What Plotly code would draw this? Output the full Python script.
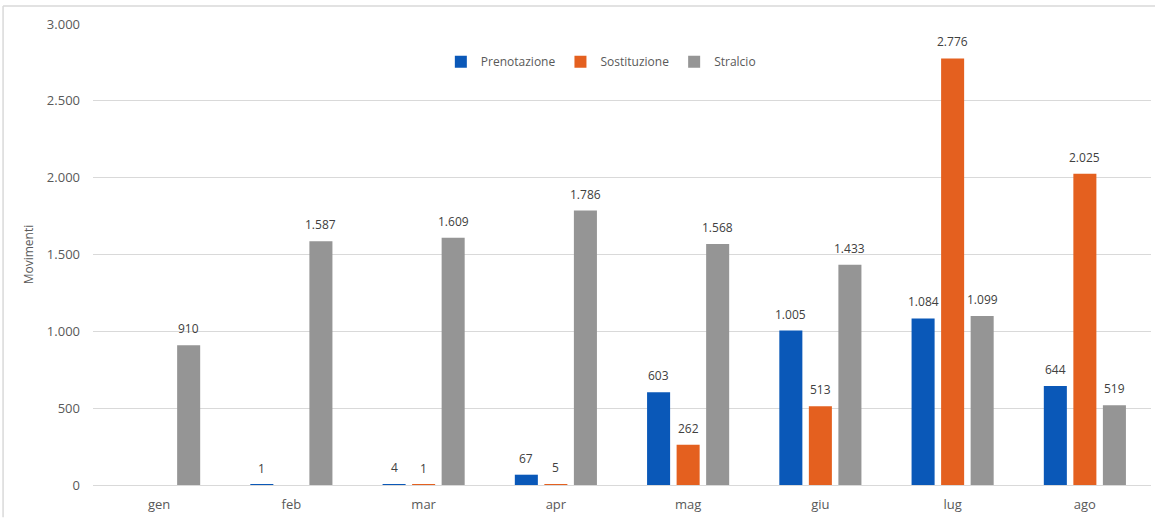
import plotly.graph_objects as go

months = ["gen", "feb", "mar", "apr", "mag", "giu", "lug", "ago"]
prenotazione = [None, 1, 4, 67, 603, 1005, 1084, 644]
sostituzione = [None, None, 1, 5, 262, 513, 2776, 2025]
stralcio = [910, 1587, 1609, 1786, 1568, 1433, 1099, 519]
y_ticks = [0, 500, 1000, 1500, 2000, 2500, 3000]

series = [
    ("Prenotazione", prenotazione, "#0A58B8"),
    ("Sostituzione", sostituzione, "#E4601F"),
    ("Stralcio", stralcio, "#959595"),
]

FONT = "Open Sans, Liberation Sans, sans-serif"

fig = go.Figure()
annotations = []
for i, (name, vals, color) in enumerate(series):
    fig.add_trace(go.Bar(
        x=months, y=vals, name=name,
        marker=dict(color=color, line=dict(width=0)),
    ))
    for m, v in zip(months, vals):
        if v is None:
            continue
        annotations.append(dict(
            x=m, y=v, xref="x", yref="y", showarrow=False,
            text=f"{v:,}".replace(",", "."),
            xshift=(i - 1) * 29.5, yshift=6, yanchor="bottom",
            font=dict(size=12, color="#404040", family=FONT),
        ))

fig.update_layout(
    width=1155, height=519,
    margin=dict(l=93, r=4, t=24, b=34),
    paper_bgcolor="white", plot_bgcolor="white",
    font=dict(family=FONT, size=12, color="#595959"),
    separators=",.",
    barmode="group", bargap=0.33, bargroupgap=0.22,
    showlegend=True,
    legend=dict(orientation="h", x=0.48, y=0.918, xanchor="center", yanchor="middle",
                font=dict(size=12, color="#595959"), itemwidth=30,
                traceorder="normal", bgcolor="rgba(0,0,0,0)"),
    xaxis=dict(showgrid=False, showline=True, linecolor="#D9D9D9", linewidth=1,
               ticks="", ticklabelstandoff=7, tickfont=dict(size=13, color="#595959")),
    yaxis=dict(range=[0, 3000], tickvals=y_ticks, tickformat=",",
               showgrid=True, gridcolor="#D9D9D9", gridwidth=1,
               zeroline=False, showline=False, ticks="",
               ticklabelstandoff=12, tickfont=dict(size=13, color="#595959"),
               title=dict(text="Movimenti", font=dict(size=12, color="#595959"), standoff=10)),
    annotations=annotations,
    shapes=[
        dict(type="line", xref="paper", yref="paper",
             x0=-0.085, x1=1.01, y0=1.039, y1=1.039,
             line=dict(color="#D9D9D9", width=1.5)),
        dict(type="line", xref="paper", yref="paper",
             x0=-0.085, x1=-0.085, y0=1.039, y1=-0.07,
             line=dict(color="#D9D9D9", width=1.5)),
    ],
)

fig.write_html("out.html")
